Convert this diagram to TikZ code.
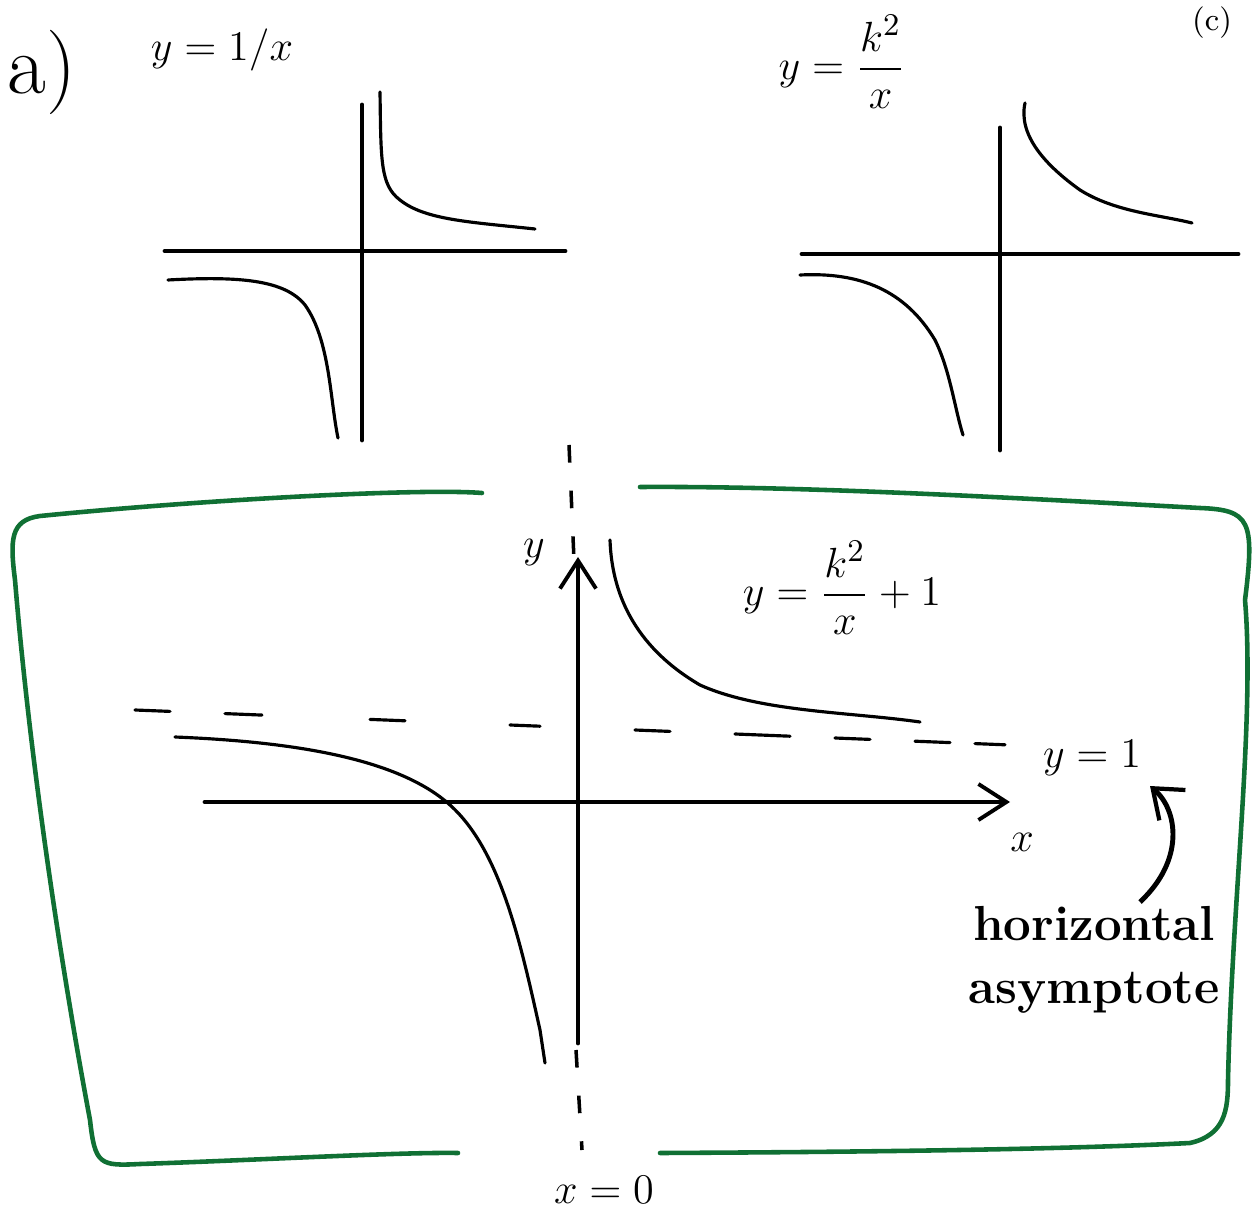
\documentclass[tikz,border=0pt]{standalone}
\usepackage{amsmath}
\usetikzlibrary{arrows.meta}
\definecolor{boxgreen}{RGB}{16,112,52}
\begin{document}
\begin{tikzpicture}[x=0.01cm, y=-0.01cm,
    axS/.style={line width=1.4pt, line cap=round},
    arrS/.style={axS, -{Straight Barb[length=2.8mm, width=3.6mm, line width=1.1pt]}},
    curveS/.style={line width=0.9pt, line cap=round},
    dashS/.style={line width=0.9pt, line cap=round},
    vdashS/.style={line width=1pt, dash pattern=on 5pt off 8pt},
    boxS/.style={draw=boxgreen, line width=1.3pt, line cap=round},
    lblS/.style={font=\fontsize{13}{15}\selectfont, inner sep=1pt},
]
\useasboundingbox (0,0) rectangle (1252,1213);
\node[font=\small, anchor=north] (part) at (1212,-6) {(c)};
\node[lblS, font=\fontsize{24}{28}\selectfont] (parta) at (42,72) {a)};
% y = 1/x
\node[lblS] (lblA) at (222,50) {$y=1/x$};
\draw[axS] (362,105) -- (362,440);
\draw[axS] (165,251) -- (565,251);
\draw[curveS] (380,92) .. controls (381,160) and (380,185) .. (400,200)
    .. controls (425,220) and (470,222) .. (535,229);
\draw[curveS] (168,280) .. controls (240,276) and (285,280) .. (305,305)
    .. controls (330,340) and (330,400) .. (338,438);
% y = k^2/x
\node[lblS] (lblB) at (842,62) {$y=\dfrac{k^2}{x}$};
\draw[axS] (1000,128) -- (1000,450);
\draw[axS] (802,254) -- (1238,254);
\draw[curveS] (1025,103) .. controls (1018,135) and (1045,165) .. (1080,190)
    .. controls (1115,212) and (1160,215) .. (1192,223);
\draw[curveS] (800,275) .. controls (860,272) and (905,290) .. (935,340)
    .. controls (950,370) and (955,410) .. (963,435);
% shifted graph
\draw[boxS] (482,493) .. controls (420,488) and (200,500) .. (40,516)
    .. controls (10,520) and (10,540) .. (15,580)
    .. controls (30,760) and (60,960) .. (90,1120)
    .. controls (95,1165) and (100,1166) .. (140,1164)
    .. controls (260,1160) and (400,1152) .. (458,1153);
\draw[boxS] (660,1153) .. controls (850,1152) and (1050,1150) .. (1190,1143)
    .. controls (1225,1135) and (1228,1110) .. (1228,1080)
    .. controls (1232,900) and (1255,720) .. (1245,600)
    .. controls (1255,520) and (1250,510) .. (1200,508)
    .. controls (1000,497) and (800,486) .. (640,487);
\draw[vdashS] (569,445) -- (574,560);
\draw[vdashS] (576,1050) -- (582,1150);
\foreach \a/\b in {135/170, 225/262, 370/405, 510/540, 635/670, 735/790, 835/870, 915/950, 975/1005}
    \draw[dashS] (\a,{710+(\a-135)*0.04}) -- (\b,{710+(\b-135)*0.04});
\draw[arrS] (578,1043) -- (578,557);
\draw[arrS] (205,802) -- (1010,802);
\node[lblS] (yax) at (534,553) {$y$};
\node[lblS] (xax) at (1022,842) {$x$};
\node[lblS] (xzero) at (604,1190) {$x=0$};
\node[lblS] (yone) at (1092,758) {$y=1$};
\node[lblS] (lblC) at (842,588) {$y=\dfrac{k^2}{x}+1$};
\draw[curveS] (610,540) .. controls (612,600) and (640,650) .. (700,685)
    .. controls (760,712) and (850,712) .. (920,722);
\draw[curveS] (175,737) .. controls (300,742) and (400,760) .. (450,805)
    .. controls (500,850) and (520,940) .. (540,1030) -- (545,1063);
\node[lblS, align=center, font=\fontsize{14}{18}\selectfont\bfseries] (hz) at (1094,960)
    {horizontal\\asymptote};
\coordinate (arrTail) at (1140,902);
\coordinate (arrHead) at (1150,786);
\draw[line width=1.4pt, -{Straight Barb[length=2.6mm, width=4mm, line width=1.2pt]}]
    (arrTail) .. controls (1185,860) and (1178,810) .. (arrHead);
\end{tikzpicture}
\end{document}
